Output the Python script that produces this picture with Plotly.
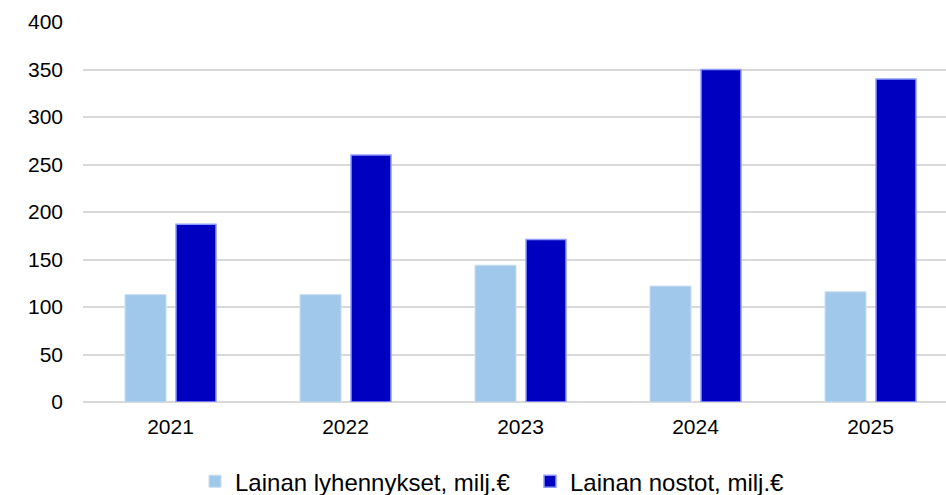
import plotly.graph_objects as go

# Annual loan repayments and new loans, million euros
years = ["2021", "2022", "2023", "2024", "2025"]
repayments = [113, 113, 144, 122, 116]
drawdowns = [187, 260, 171, 350, 340]
y_ticks = [0, 50, 100, 150, 200, 250, 300, 350, 400]

W, H = 946, 495
left, right, top, bottom = 83, 0, 22, 93
px_per_cat = 175.0
plot_w = W - left - right

font = dict(family="Liberation Sans, Arial, sans-serif", size=21, color="#000000")
legend_font = dict(family="Liberation Sans, Arial, sans-serif", size=24, color="#000000")

fig = go.Figure()
fig.add_trace(go.Bar(
    x=years, y=repayments, name="Lainan lyhennykset, milj.€",
    marker=dict(color="#A0C8EA", line=dict(color="#C9DDF1", width=1)),
    width=41 / px_per_cat, offset=-45.5 / px_per_cat,
))
fig.add_trace(go.Bar(
    x=years, y=drawdowns, name="Lainan nostot, milj.€",
    marker=dict(color="#0000C0", line=dict(color="#8E9CFF", width=1.5)),
    width=40 / px_per_cat, offset=5.5 / px_per_cat,
))

fig.update_layout(
    width=W, height=H,
    margin=dict(l=left, r=right, t=top, b=bottom, pad=0),
    paper_bgcolor="white", plot_bgcolor="white",
    font=font,
    barmode="overlay",
    showlegend=True,
    legend=dict(
        orientation="h", xref="container", x=195 / W, xanchor="left",
        yref="container", y=0.027, yanchor="middle",
        font=legend_font, itemwidth=30, entrywidth=290, traceorder="normal",
        bgcolor="rgba(0,0,0,0)",
    ),
)
fig.update_xaxes(
    type="category", range=[-0.5, -0.5 + plot_w / px_per_cat],
    showgrid=False, showline=False, zeroline=False, ticks="",
    tickfont=font, ticklabelstandoff=10,
)
fig.update_yaxes(
    range=[0, 400], tickvals=y_ticks, ticktext=[str(v) for v in y_ticks],
    showgrid=True, gridcolor="#D9D9D9", gridwidth=1.5,
    zeroline=True, zerolinecolor="#D9D9D9", zerolinewidth=1.5,
    showline=False, ticks="", tickfont=font, ticklabelstandoff=19,
)

fig.write_html("out.html")
